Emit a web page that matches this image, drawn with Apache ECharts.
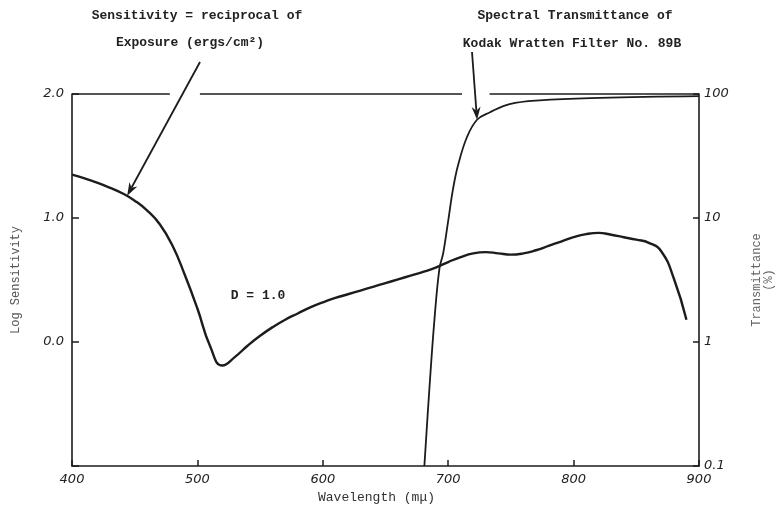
<!DOCTYPE html>
<html>
<head>
<meta charset="utf-8">
<script src="https://cdn.jsdelivr.net/npm/echarts@6/dist/echarts.min.js"></script>
<style>
  html, body { margin: 0; padding: 0; background: #ffffff; }
  #chart { width: 775px; height: 508px; }
</style>
</head>
<body>
<div id="chart"></div>
<script>
// Film sensitivity (log of reciprocal exposure) at density D = 1.0, by wavelength in mμ
const sensWavelength = [400, 410, 420, 430, 440, 450, 460, 470, 480, 490, 500, 510, 520, 530, 540, 550, 560, 570, 580, 590, 600, 610, 620, 630, 640, 650, 660, 670, 680, 690, 700, 710, 720, 730, 740, 750, 760, 770, 780, 790, 800, 810, 820, 830, 840, 850, 860, 870, 880, 890];
const sensLog        = [1.35, 1.32, 1.285, 1.245, 1.20, 1.14, 1.06, 0.95, 0.78, 0.54, 0.27, -0.03, -0.19, -0.12, -0.03, 0.05, 0.12, 0.18, 0.23, 0.28, 0.32, 0.355, 0.385, 0.415, 0.445, 0.475, 0.505, 0.535, 0.565, 0.60, 0.645, 0.685, 0.715, 0.725, 0.715, 0.705, 0.715, 0.74, 0.775, 0.81, 0.845, 0.87, 0.88, 0.865, 0.845, 0.825, 0.80, 0.73, 0.51, 0.18];

// Spectral transmittance (%) of Kodak Wratten filter No. 89B
const filterWavelength = [681, 685, 689, 693, 696, 700, 704, 708, 715, 723, 733, 749, 773, 821, 900];
const filterTransmit   = [0.1, 0.42, 1.5, 3.9, 5.2, 9.5, 17.5, 27, 45, 62, 71, 83, 89, 93, 96];

// Axis tick labels
const xTickLabels     = { 400: '400', 500: '500', 600: '600', 700: '700', 800: '800', 900: '900' };
const leftTickLabels  = { 2: '2.0', 1: '1.0', 0: '0.0', '-1': '' };
const rightTickLabels = { 0.1: '0.1', 1: '1', 10: '10', 100: '100' };

// Pieces of the top rule (interrupted where the callout arrows pass)
const topRuleSegments = [[400, 478], [502, 711], [733, 900]];

// Callout targets on the curves
const sensCalloutPoint   = [444, 1.18];
const filterCalloutPoint = [723, 62];

const INK = '#1c1c1c';
const tickFont = { color: '#222', fontSize: 13, fontStyle: 'italic', fontFamily: 'DejaVu Sans' };
const typeFont = 'Liberation Mono';

const chart = echarts.init(document.getElementById('chart'), null, { renderer: 'canvas' });

const option = {
  backgroundColor: '#ffffff',
  animation: false,
  grid: { left: 72, right: 76, top: 94, bottom: 42, containLabel: false, outerBoundsMode: 'none' },
  xAxis: {
    type: 'value', min: 400, max: 900, interval: 100,
    name: 'Wavelength (mμ)', nameLocation: 'middle', nameGap: 25,
    nameTextStyle: { fontFamily: typeFont, fontSize: 13, color: '#333', padding: [0, 18, 0, 0] },
    axisLine: { show: true, onZero: false, lineStyle: { color: INK, width: 1.6 } },
    axisTick: { show: true, inside: true, length: 6, lineStyle: { color: INK, width: 1.5 } },
    axisLabel: Object.assign({ margin: 7, formatter: v => xTickLabels[v] ?? '' }, tickFont),
    splitLine: { show: false }
  },
  yAxis: [
    {
      type: 'value', min: -1, max: 2, interval: 1, position: 'left',
      name: 'Log Sensitivity', nameLocation: 'middle', nameGap: 50, nameRotate: 90,
      nameTextStyle: { fontFamily: typeFont, fontSize: 12, color: '#555' },
      axisLine: { show: true, onZero: false, lineStyle: { color: INK, width: 1.6 } },
      axisTick: { show: true, inside: true, length: 7, lineStyle: { color: INK, width: 1.5 } },
      axisLabel: Object.assign({ margin: 8, formatter: v => leftTickLabels[v] ?? '' }, tickFont),
      splitLine: { show: false }
    },
    {
      type: 'log', logBase: 10, min: 0.1, max: 100, position: 'right',
      name: 'Transmittance\n(%)', nameLocation: 'middle', nameGap: 52, nameRotate: 90,
      nameTextStyle: { fontFamily: typeFont, fontSize: 12, color: '#666', lineHeight: 12 },
      axisLine: { show: true, onZero: false, lineStyle: { color: INK, width: 1.6 } },
      axisTick: { show: true, inside: true, length: 6, lineStyle: { color: INK, width: 1.5 } },
      axisLabel: Object.assign({ margin: 5, formatter: v => rightTickLabels[+v.toPrecision(3)] ?? '' }, tickFont),
      splitLine: { show: false }
    }
  ],
  series: [
    {
      name: 'Sensitivity',
      type: 'line',
      xAxisIndex: 0, yAxisIndex: 0,
      data: sensWavelength.map((w, i) => [w, sensLog[i]]),
      smooth: 0.5,
      showSymbol: false,
      lineStyle: { color: INK, width: 2.4 },
      markLine: {
        silent: true, symbol: 'none', animation: false,
        label: { show: false },
        lineStyle: { color: INK, width: 1.5, type: 'solid' },
        data: topRuleSegments.map(s => [{ coord: [s[0], 2] }, { coord: [s[1], 2] }])
      },
      z: 3
    },
    {
      name: 'Transmittance',
      type: 'line',
      xAxisIndex: 0, yAxisIndex: 1,
      data: filterWavelength.map((w, i) => [w, filterTransmit[i]]),
      smooth: 0.4,
      showSymbol: false,
      lineStyle: { color: INK, width: 1.8 },
      z: 3
    }
  ]
};

chart.setOption(option);

// Callout arrow: straight shaft with a filled head at the tip
function arrow(tail, tip) {
  const dx = tip[0] - tail[0], dy = tip[1] - tail[1];
  const len = Math.hypot(dx, dy);
  const ux = dx / len, uy = dy / len;
  const headLen = 13, headHalf = 4.5;
  const bx = tip[0] - ux * headLen, by = tip[1] - uy * headLen;
  const nx = -uy, ny = ux;
  return [
    { type: 'line', shape: { x1: tail[0], y1: tail[1], x2: bx + ux * 4, y2: by + uy * 4 },
      style: { stroke: INK, lineWidth: 1.8 }, silent: true },
    { type: 'polygon', shape: { points: [
        tip,
        [bx + nx * headHalf, by + ny * headHalf],
        [bx + ux * 4, by + uy * 4],
        [bx - nx * headHalf, by - ny * headHalf]
      ] }, style: { fill: INK }, silent: true }
  ];
}

const sensTip = chart.convertToPixel({ xAxisIndex: 0, yAxisIndex: 0 }, sensCalloutPoint);
const filterTip = chart.convertToPixel({ xAxisIndex: 0, yAxisIndex: 1 }, filterCalloutPoint);

const titleStyle = { fontFamily: typeFont, fontSize: 13, fontWeight: 'bold', fill: '#222', align: 'center', verticalAlign: 'middle' };

chart.setOption({
  graphic: [
    { type: 'text', x: 197, y: 16, style: Object.assign({ text: 'Sensitivity = reciprocal of' }, titleStyle), silent: true },
    { type: 'text', x: 190, y: 43, style: Object.assign({ text: 'Exposure (ergs/cm²)' }, titleStyle), silent: true },
    { type: 'text', x: 575, y: 16, style: Object.assign({ text: 'Spectral Transmittance of' }, titleStyle), silent: true },
    { type: 'text', x: 572, y: 44, style: Object.assign({ text: 'Kodak Wratten Filter No. 89B' }, titleStyle), silent: true },
    { type: 'text', x: 258, y: 296, style: Object.assign({ text: 'D = 1.0' }, titleStyle), silent: true }
  ].concat(arrow([200, 62], sensTip), arrow([472, 52], filterTip))
});
</script>
</body>
</html>
